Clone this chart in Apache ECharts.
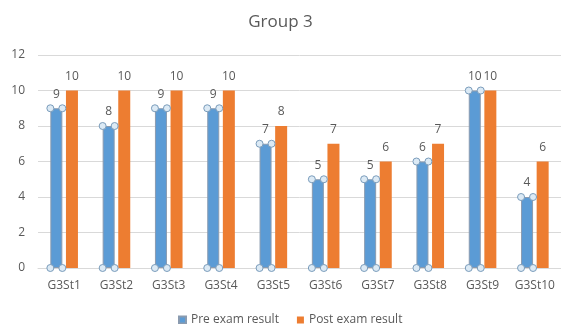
<!DOCTYPE html>
<html>
<head>
<meta charset="utf-8">
<script src="https://cdn.jsdelivr.net/npm/echarts@6/dist/echarts.min.js"></script>
<style>html,body{margin:0;padding:0;background:#fff}#c{width:561px;height:324px}</style>
</head>
<body>
<div id="c"></div>
<script>
var titleText = 'Group 3';
var categories = ['G3St1','G3St2','G3St3','G3St4','G3St5','G3St6','G3St7','G3St8','G3St9','G3St10'];
var preScores = [9, 8, 9, 9, 7, 5, 5, 6, 10, 4];
var postScores = [10, 10, 10, 10, 8, 7, 6, 7, 10, 6];
var seriesNames = ['Pre exam result', 'Post exam result'];
var yTicks = [0, 2, 4, 6, 8, 10, 12];

var BW = 12, GAPPCT = 0.3;
var FONT = '"Open Sans", "Noto Sans", sans-serif';
var TXT = '#595959';

var chart = echarts.init(document.getElementById('c'), null, {renderer: 'canvas'});
chart.setOption({
  animation: false,
  backgroundColor: '#fff',
  title: {
    text: titleText, left: 'center', top: 9,
    textStyle: {fontFamily: FONT, fontSize: 17, fontWeight: 'normal', color: TXT}
  },
  legend: {
    data: seriesNames, top: 309, left: 173,
    icon: 'rect', itemWidth: 7, itemHeight: 7, itemGap: 18,
    textStyle: {fontFamily: FONT, fontSize: 12, color: TXT}
  },
  grid: {left: 38, right: 0, top: 55, bottom: 56, containLabel: false},
  xAxis: {
    type: 'category', data: categories,
    axisLine: {lineStyle: {color: '#D9D9D9'}},
    axisTick: {show: false},
    axisLabel: {fontFamily: FONT, fontSize: 12, color: TXT, margin: 12}
  },
  yAxis: {
    type: 'value', min: yTicks[0], max: yTicks[yTicks.length - 1], interval: 2,
    axisLine: {show: false}, axisTick: {show: false},
    splitLine: {lineStyle: {color: '#D9D9D9'}},
    axisLabel: {fontFamily: FONT, fontSize: 12, color: TXT, margin: 13}
  },
  series: [
    {
      name: seriesNames[0], type: 'bar', data: preScores,
      barWidth: BW, barGap: (GAPPCT * 100) + '%',
      itemStyle: {color: '#5B9BD5', borderColor: '#8A9BB0', borderWidth: 1},
      label: {show: true, position: 'top', distance: 8, fontFamily: FONT, fontSize: 12, color: TXT}
    },
    {
      name: seriesNames[1], type: 'bar', data: postScores,
      barWidth: BW,
      itemStyle: {color: '#ED7D31'},
      label: {show: true, position: 'top', distance: 8, fontFamily: FONT, fontSize: 12, color: TXT}
    },
    {
      type: 'custom', name: 'handles', z: 10,
      data: preScores.map(function (v, i) { return [i, v]; }),
      encode: {x: 0, y: 1},
      silent: true,
      renderItem: function (params, api) {
        var i = api.value(0), v = api.value(1);
        var top = api.coord([i, v]);
        var bot = api.coord([i, 0]);
        var cx = top[0] - (BW + BW * GAPPCT) / 2;
        var xs = [cx - BW / 2, cx + BW / 2];
        var ys = [top[1], bot[1]];
        var children = [];
        xs.forEach(function (x) {
          ys.forEach(function (y) {
            children.push({
              type: 'circle',
              shape: {cx: x, cy: y, r: 3.5},
              style: {fill: '#DCEAF5', stroke: '#7A9CBB', lineWidth: 1}
            });
          });
        });
        return {type: 'group', children: children};
      }
    }
  ]
});
</script>
</body>
</html>
